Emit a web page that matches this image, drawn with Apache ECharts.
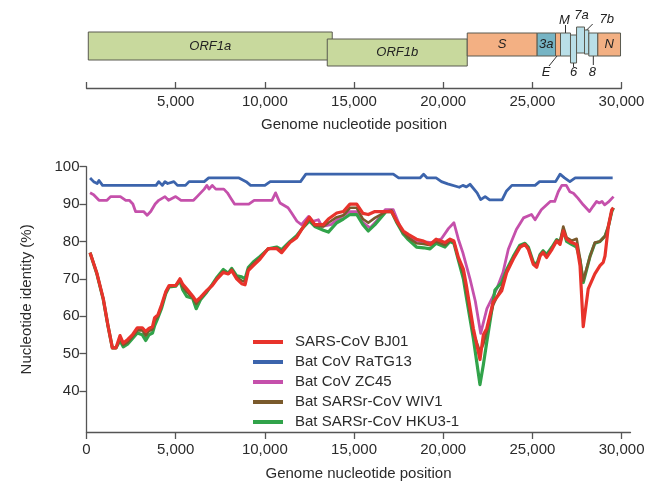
<!DOCTYPE html>
<html><head><meta charset="utf-8">
<script src="https://cdn.jsdelivr.net/npm/echarts@6/dist/echarts.min.js"></script>
<style>html,body{margin:0;padding:0;background:#fff}#c{width:656px;height:486px}</style>
</head><body><div id="c"></div>
<script>
// ---- data ----
const xTicks = [0, 5000, 10000, 15000, 20000, 25000, 30000];
const mapLabelTicks = [5000, 10000, 15000, 20000, 25000, 30000];
const yTicks = [40, 50, 60, 70, 80, 90, 100];

const geneNames = ['ORF1a', 'ORF1b', 'S', '3a', 'E', 'M', '6', '7a', '7b', '8', 'N'];
const geneStart = [100, 13500, 21350, 25270, 26300, 26580, 27140, 27480, 27926, 28167, 28672];
const geneEnd   = [13780, 21350, 25270, 26300, 26580, 27140, 27480, 27926, 28167, 28672, 29945];

const seriesNames = ['SARS-CoV BJ01', 'Bat CoV RaTG13', 'Bat CoV ZC45', 'Bat SARSr-CoV WIV1', 'Bat SARSr-CoV HKU3-1'];

const bj01 = [[200,77],[570,71.7],[940,64.7],[1200,57.6],[1450,51.5],[1650,51.5],[1880,54.8],[2060,52.8],[2300,53.7],[2570,55],[2850,56.9],[3130,56.9],[3320,55.9],[3500,56.7],[3700,57.2],[3820,59.6],[4000,60.3],[4200,62.9],[4440,66.5],[4630,68.2],[5000,68.2],[5240,70],[5400,68.5],[5620,67.3],[5950,65.4],[6150,64],[6400,65.1],[6750,66.9],[7050,68.2],[7330,70],[7670,71.7],[7950,71.3],[8140,72.2],[8420,70],[8700,68.7],[8890,68.4],[9070,72.2],[9350,73.5],[9730,75.3],[10190,78.1],[10660,78.1],[10940,77],[11410,79.7],[11780,81],[12100,83.5],[12500,86.5],[12800,84.5],[13280,84.5],[13560,86],[14030,87.6],[14400,88],[14770,90],[15150,90],[15500,87.5],[15800,87.2],[16170,88],[17100,88],[17400,85.4],[17760,82.8],[18040,81.9],[18500,80.6],[18900,80.1],[19260,79.2],[19600,80.6],[20100,79.7],[20380,80.6],[20600,80.1],[20850,75.7],[21130,72.6],[21300,68.2],[21690,56.7],[22060,48.4],[22250,55],[22440,56.7],[22800,63.8],[23280,66.8],[23560,71.7],[23930,75.3],[24300,78.4],[24580,79.2],[24770,77.9],[25050,73.9],[25240,73.1],[25430,76.1],[25600,77],[25800,75.7],[26100,77.9],[26360,80.1],[26550,79.2],[26730,82.8],[26920,80.6],[27200,79.7],[27480,79.2],[27670,73.5],[27850,57.2],[28130,67.3],[28500,71.3],[28790,73.5],[28970,74.4],[29070,76.1],[29260,84.1],[29450,88.5],[29540,89]];

const ratg13 = [[200,97],[400,96],[600,95.5],[700,96.3],[900,95],[3900,95],[4050,96],[4250,95],[4400,96],[4550,95.5],[4900,96],[5100,95],[5550,95],[5750,96],[6600,96],[6850,97],[8550,97],[8950,96],[9200,95],[10000,95],[10300,96],[12000,96],[12300,98],[17200,98],[17500,97],[18700,97],[18900,98],[19100,97],[19600,97],[19900,96],[20250,95.4],[20900,94.5],[21100,95],[21300,94.6],[21500,95.3],[21900,93],[22100,91.2],[22350,92],[22600,91.1],[23300,91.1],[23550,93.5],[23850,95],[25150,95],[25400,96],[26300,96],[26550,98],[26800,97],[27100,96],[27400,97],[29500,97]];

const zc45 = [[200,93],[400,92.5],[700,91],[1150,91],[1350,92],[1900,92],[2200,91],[2400,91],[2600,90],[2750,88],[3200,88],[3400,87],[3600,88],[3850,90],[4050,91],[4400,92],[4600,91],[5000,92],[5300,91],[6000,91],[6200,92],[6400,93],[6600,94],[6750,95],[6870,94],[7050,95],[7250,94],[7700,94],[7900,93],[8100,91.5],[8300,90],[9100,90],[9400,91],[10400,91],[10600,93],[10850,90.3],[11300,89],[11500,87.6],[11800,85.4],[12050,84.5],[12450,86.7],[12700,85.4],[13000,85.8],[13200,84],[13700,84.5],[14200,86.3],[14750,88],[15150,88],[15500,85],[15900,83.6],[16250,85.4],[16750,88.5],[17200,88.5],[17750,82],[18500,80.1],[19400,79.7],[19900,80.7],[20300,83.5],[20600,85],[20850,80.6],[21100,77],[21500,70],[21800,64],[22100,55.4],[22450,62],[23000,67.3],[23350,71.7],[23650,77.9],[24100,83.2],[24500,86.3],[24950,87.2],[25150,85.8],[25500,88.5],[26000,90.7],[26250,90.7],[26450,93.3],[26650,95],[26900,95],[27100,93.3],[27300,92.9],[27550,91.6],[27850,89.8],[28200,88],[28400,89.4],[28600,90.7],[28750,90.3],[28900,90.7],[29050,89.8],[29250,90.5],[29550,92]];

const wiv1 = [[200,77],[570,71.6],[940,64.6],[1200,57.5],[1450,51.5],[1650,51.5],[1880,54],[2060,52.3],[2300,53],[2570,54.5],[2850,56.2],[3130,56.2],[3320,54.8],[3500,56],[3700,56.5],[3820,58.8],[4000,60],[4200,62.5],[4440,66.3],[4630,68],[5000,68.1],[5240,69.8],[5400,67.8],[5620,66.5],[5950,65],[6150,63.3],[6400,64.8],[6750,66.7],[7050,68.3],[7330,70.2],[7670,72],[7950,71.4],[8140,72.5],[8420,70.4],[8700,69.5],[8890,69.2],[9070,72.6],[9350,74],[9730,75.6],[10190,78],[10660,78.3],[10940,77.4],[11410,79.8],[11780,81.2],[12100,83.5],[12500,86],[12800,84.2],[13280,84],[13560,85],[14030,86.5],[14400,87],[14770,89],[15150,89],[15500,86],[15800,85],[16170,86.3],[16800,88],[17100,88.3],[17400,85.2],[17760,82.4],[18040,81],[18500,79.5],[18900,79.3],[19260,79],[19600,80],[20100,79],[20380,80.3],[20600,79.8],[20850,75.3],[21130,71.5],[21300,66.5],[21690,55.5],[22060,50.5],[22250,52.5],[22440,56],[22800,63],[23280,67.8],[23560,72],[23930,75.6],[24300,78.7],[24580,79.3],[24770,78.2],[25050,74.2],[25240,73.5],[25430,76.3],[25600,77.3],[25800,76],[26100,78.2],[26360,80.3],[26550,80],[26730,84],[26920,81],[27200,80.2],[27480,80.7],[27670,75.5],[27850,69.5],[28230,76],[28500,79.7],[28790,80],[29070,81.4],[29260,84],[29450,88.2],[29540,89]];

const hku3 = [[200,77],[570,71.5],[940,64.5],[1200,57.5],[1450,51.5],[1650,51.5],[1880,53.5],[2060,51.8],[2300,52.5],[2570,54],[2850,55.5],[3130,55],[3320,53.5],[3500,55],[3700,55.5],[3820,57.5],[4000,59.5],[4200,62],[4440,66],[4630,67.8],[5000,68],[5240,69.5],[5400,67],[5620,65.3],[5950,64.8],[6150,62],[6400,64.5],[6750,66.5],[7050,68.5],[7330,70.5],[7670,72.5],[7950,71.5],[8140,72.8],[8420,70.8],[8700,70.5],[8890,70],[9070,73],[9350,74.5],[9730,76],[10190,78],[10660,78.5],[10940,77.8],[11410,80],[11780,81.5],[12100,83.5],[12500,85.5],[12800,84],[13280,83],[13560,82.5],[14030,85],[14400,86],[14770,87.2],[15150,87.2],[15500,84.5],[15800,82.8],[16170,84.5],[16800,88],[17100,88],[17400,85],[17760,82],[18040,80.5],[18500,78.5],[18900,78.3],[19260,78],[19600,79.5],[20100,78.5],[20380,80],[20600,79.5],[20850,75],[21130,70],[21300,65],[21690,54],[22060,41.7],[22250,47],[22440,53],[22900,67],[23280,69],[23560,72.5],[23930,76],[24300,79],[24580,79.5],[24770,78.5],[25050,74.5],[25240,73.8],[25430,76.5],[25600,77.5],[25800,76.5],[26100,78.5],[26360,80.5],[26550,79.8],[26730,83],[26920,80],[27200,79.2],[27480,78.5],[27670,75],[27850,69],[28230,76],[28500,79.5],[28790,80],[29070,81.4],[29260,84],[29450,88],[29540,89]];

// ---- styles ----
const FONT = '"Liberation Sans", Arial, Helvetica, sans-serif';
const TXT = '#2b2b2b';
const AX = '#555';
const GREEN = '#c8d99d', ORANGE = '#f3b083', TEAL = '#76b4c4', LBLUE = '#b9dfe8';
// box offsets (px) relative to top of map grid, label placement
const geneStyle = {
  'ORF1a': {fill: GREEN, t: 12, b: 40, lab: 'in'},
  'ORF1b': {fill: GREEN, t: 19, b: 46, lab: 'in'},
  'S':     {fill: ORANGE, t: 13, b: 36, lab: 'in'},
  '3a':    {fill: TEAL, t: 13, b: 36, lab: 'in'},
  'E':     {fill: ORANGE, t: 13, b: 36, lab: 'out', tx: -12, ty: 52, line: [-1, 36, -9, 46]},
  'M':     {fill: LBLUE, t: 13, b: 36, lab: 'out', tx: -1, ty: 0, line: [0, 5, 0, 13]},
  '6':     {fill: LBLUE, t: 15, b: 43, lab: 'out', tx: 0, ty: 52, line: [0, 43, 0, 47]},
  '7a':    {fill: LBLUE, t: 7, b: 33, lab: 'out', tx: 1, ty: -5},
  '7b':    {fill: LBLUE, t: 10, b: 34, lab: 'out', tx: 20, ty: -1, line: [0, 10, 6, 4]},
  '8':     {fill: LBLUE, t: 13, b: 36, lab: 'out', tx: -1, ty: 52, line: [0, 36, 0, 45]},
  'N':     {fill: ORANGE, t: 13, b: 36, lab: 'in'}
};
const seriesColor = {
  'SARS-CoV BJ01': '#e8332b',
  'Bat CoV RaTG13': '#3c64ac',
  'Bat CoV ZC45': '#c550ab',
  'Bat SARSr-CoV WIV1': '#7a5a2c',
  'Bat SARSr-CoV HKU3-1': '#31a34a'
};
const seriesWidth = {
  'SARS-CoV BJ01': 3.2, 'Bat CoV RaTG13': 2.8, 'Bat CoV ZC45': 2.8,
  'Bat SARSr-CoV WIV1': 2.6, 'Bat SARSr-CoV HKU3-1': 3.2
};
const seriesData = {
  'SARS-CoV BJ01': bj01, 'Bat CoV RaTG13': ratg13, 'Bat CoV ZC45': zc45,
  'Bat SARSr-CoV WIV1': wiv1, 'Bat SARSr-CoV HKU3-1': hku3
};
const drawOrder = ['Bat CoV RaTG13', 'Bat CoV ZC45', 'Bat SARSr-CoV HKU3-1', 'Bat SARSr-CoV WIV1', 'SARS-CoV BJ01'];

const fmt = v => v === 0 ? '0' : v.toLocaleString('en-US');

function renderGene(params, api) {
  const name = geneNames[api.value(2)];
  const st = geneStyle[name];
  const cs = params.coordSys;
  const x0 = api.coord([api.value(0), 0])[0];
  const x1 = api.coord([api.value(1), 0])[0];
  const cx = (x0 + x1) / 2;
  const top = cs.y + st.t, bot = cs.y + st.b;
  const ch = [{type: 'rect', shape: {x: x0, y: top, width: x1 - x0, height: bot - top},
    style: {fill: st.fill, stroke: '#5a5a50', lineWidth: 1}}];
  const font = 'italic 13px ' + FONT;
  if (st.lab === 'in') {
    ch.push({type: 'text', style: {text: name, x: cx, y: (top + bot) / 2, align: 'center', verticalAlign: 'middle', font: font, fill: '#222'}});
  } else {
    ch.push({type: 'text', style: {text: name, x: cx + st.tx, y: cs.y + st.ty, align: 'center', verticalAlign: 'middle', font: font, fill: '#222'}});
    if (st.line) {
      ch.push({type: 'line', shape: {x1: cx + st.line[0], y1: cs.y + st.line[1], x2: cx + st.line[2], y2: cs.y + st.line[3]},
        style: {stroke: '#333', lineWidth: 1}});
    }
  }
  return {type: 'group', children: ch};
}

const chart = echarts.init(document.getElementById('c'), null, {renderer: 'canvas'});
const option = {
  animation: false,
  backgroundColor: '#fff',
  textStyle: {fontFamily: FONT},
  grid: [
    {left: 86.5, right: 25.5, top: 166.7, bottom: 51},
    {left: 86.5, right: 34.5, top: 20, height: 68}
  ],
  xAxis: [
    {type: 'value', gridIndex: 0, min: 0, max: 30500,
     axisLine: {lineStyle: {color: AX, width: 1.3}},
     axisTick: {show: true, length: 7, customValues: xTicks, lineStyle: {color: AX, width: 1.3}},
     axisLabel: {customValues: xTicks, formatter: fmt, color: TXT, fontSize: 15, margin: 10, fontFamily: FONT},
     splitLine: {show: false},
     name: 'Genome nucleotide position', nameLocation: 'middle', nameGap: 34,
     nameTextStyle: {color: TXT, fontSize: 15, fontFamily: FONT}},
    {type: 'value', gridIndex: 1, min: 0, max: 30000,
     axisLine: {lineStyle: {color: AX, width: 1.3}},
     axisTick: {show: true, inside: true, length: 6, customValues: xTicks, lineStyle: {color: AX, width: 1.3}},
     axisLabel: {customValues: mapLabelTicks, formatter: fmt, color: TXT, fontSize: 15, margin: 6, fontFamily: FONT},
     splitLine: {show: false},
     name: 'Genome nucleotide position', nameLocation: 'middle', nameGap: 29,
     nameTextStyle: {color: TXT, fontSize: 15, fontFamily: FONT}}
  ],
  yAxis: [
    {type: 'value', gridIndex: 0, min: 29, max: 100,
     axisLine: {show: true, lineStyle: {color: AX, width: 1.3}},
     axisTick: {show: true, length: 7, customValues: yTicks, lineStyle: {color: AX, width: 1.3}},
     axisLabel: {customValues: yTicks, color: TXT, fontSize: 15, margin: 7, fontFamily: FONT},
     splitLine: {show: false},
     name: 'Nucleotide identity (%)', nameLocation: 'middle', nameGap: 52, nameRotate: 90,
     nameTextStyle: {color: TXT, fontSize: 15, fontFamily: FONT}},
    {type: 'value', gridIndex: 1, min: 0, max: 1, show: false}
  ],
  legend: {
    data: seriesNames, orient: 'vertical', left: 248, top: 329,
    icon: 'rect', itemWidth: 30, itemHeight: 4, itemGap: 4,
    textStyle: {color: TXT, fontSize: 15, lineHeight: 16, fontFamily: FONT, padding: [0, 0, 0, 7]}
  },
  series: drawOrder.map(n => ({
    name: n, type: 'line', xAxisIndex: 0, yAxisIndex: 0,
    data: seriesData[n], symbol: 'none', smooth: false,
    color: seriesColor[n],
    lineStyle: {width: seriesWidth[n], color: seriesColor[n], join: 'round'}
  })).concat([{
    type: 'custom', name: 'genes', xAxisIndex: 1, yAxisIndex: 1,
    renderItem: renderGene, clip: false, silent: true,
    encode: {x: [0, 1]},
    data: geneNames.map((g, i) => [geneStart[i], geneEnd[i], i])
  }])
};
chart.setOption(option);
</script>
</body></html>
